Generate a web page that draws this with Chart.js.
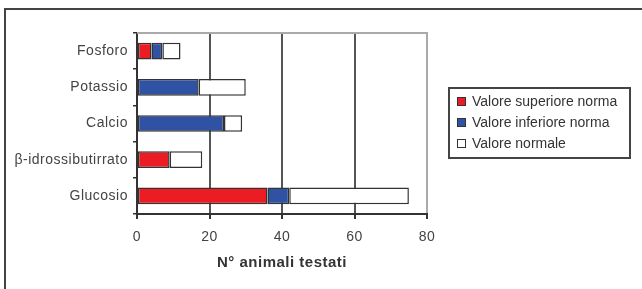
<!DOCTYPE html>
<html>
<head>
<meta charset="utf-8">
<script src="https://cdn.jsdelivr.net/npm/chart.js@4/dist/chart.umd.min.js"></script>
<style>
  html, body { margin: 0; padding: 0; background: #fff; overflow: hidden; }
  #frame { position: absolute; left: 4px; top: 8px; width: 700px; height: 400px; border: 2px solid #444; }
  #wrap { position: absolute; left: 0; top: 0; width: 642px; height: 289px; }
  #legend {
    position: absolute; left: 448px; top: 87px; width: 172px; height: 68px;
    border: 2px solid #444; padding: 0 0 0 7px;
    font: 14px "Liberation Sans", Arial, sans-serif; color: #333;
  }
  #legend div { height: 21px; line-height: 21px; white-space: nowrap; }
  #legend div:first-child { margin-top: 2px; }
  #legend span { display: inline-block; width: 7px; height: 7px; border: 1px solid #333; margin-right: 6px; vertical-align: 0px; }
</style>
</head>
<body>
<div id="frame"></div>
<div id="wrap"><canvas id="chart" width="642" height="289"></canvas></div>
<div id="legend"></div>
<script>
  // Categorie e valori (n° animali)
  const categories = ['Fosforo', 'Potassio', 'Calcio', 'β-idrossibutirrato', 'Glucosio'];
  const superiore = [4, 0, 0, 9, 36];
  const inferiore = [3, 17, 24, 0, 6];
  const normale = [5, 13, 5, 9, 33];
  const seriesLabels = ['Valore superiore norma', 'Valore inferiore norma', 'Valore normale'];
  const seriesColors = ['#ec1c24', '#2f52a5', '#ffffff'];
  const xMax = 80;
  const xStep = 20;
  const axisTitle = 'N° animali testati';

  const fontFamily = '"Liberation Sans", Arial, sans-serif';

  // testo leggermente spaziato + bordo superiore dell'area del grafico
  const extras = {
    id: 'extras',
    beforeDraw(chart) {
      chart.ctx.letterSpacing = '0.5px';
    },
    afterDraw(chart) {
      const a = chart.chartArea, ctx = chart.ctx;
      ctx.save();
      ctx.strokeStyle = '#aaa';
      ctx.lineWidth = 2;
      ctx.beginPath();
      ctx.moveTo(a.left, a.top);
      ctx.lineTo(a.right + 1, a.top);
      ctx.stroke();
      ctx.restore();
      ctx.letterSpacing = '0px';
    }
  };

  const seriesData = [superiore, inferiore, normale];
  const datasets = seriesLabels.map((label, i) => ({
    label: label,
    data: seriesData[i],
    backgroundColor: seriesColors[i],
    borderColor: '#333',
    borderWidth: 1.5,
    borderSkipped: false,
    barPercentage: 0.46,
    categoryPercentage: 1
  }));

  new Chart(document.getElementById('chart'), {
    type: 'bar',
    data: { labels: categories, datasets: datasets },
    plugins: [extras],
    options: {
      indexAxis: 'y',
      responsive: false,
      animation: false,
      layout: { padding: { left: 0, right: 215, top: 33, bottom: 0 } },
      plugins: { legend: { display: false }, tooltip: { enabled: false } },
      scales: {
        x: {
          stacked: true,
          min: 0,
          max: xMax,
          afterFit: s => { s.height = 75; },
          ticks: { stepSize: xStep, padding: 10, color: '#444', font: { family: fontFamily, size: 14 } },
          grid: {
            color: c => (c.tick && c.tick.value === xMax) ? '#aaa' : '#555',
            lineWidth: 2,
            tickColor: '#333',
            tickLength: 5
          },
          border: { display: true, color: '#333', width: 2 },
          title: {
            display: true,
            text: axisTitle,
            color: '#333',
            font: { family: fontFamily, size: 15, weight: 'bold' },
            padding: { top: 4, bottom: 17 }
          }
        },
        y: {
          stacked: true,
          afterFit: s => { s.width = 137; },
          ticks: { padding: 5, color: '#444', font: { family: fontFamily, size: 14 } },
          grid: { drawOnChartArea: false, offset: true, color: '#333', tickLength: 4, lineWidth: 1.5 },
          border: { display: true, color: '#333', width: 2 }
        }
      }
    }
  });

  // legenda HTML con cornice
  const legend = document.getElementById('legend');
  seriesLabels.forEach((label, i) => {
    const row = document.createElement('div');
    const box = document.createElement('span');
    box.style.background = seriesColors[i];
    row.appendChild(box);
    row.appendChild(document.createTextNode(label));
    legend.appendChild(row);
  });
</script>
</body>
</html>
